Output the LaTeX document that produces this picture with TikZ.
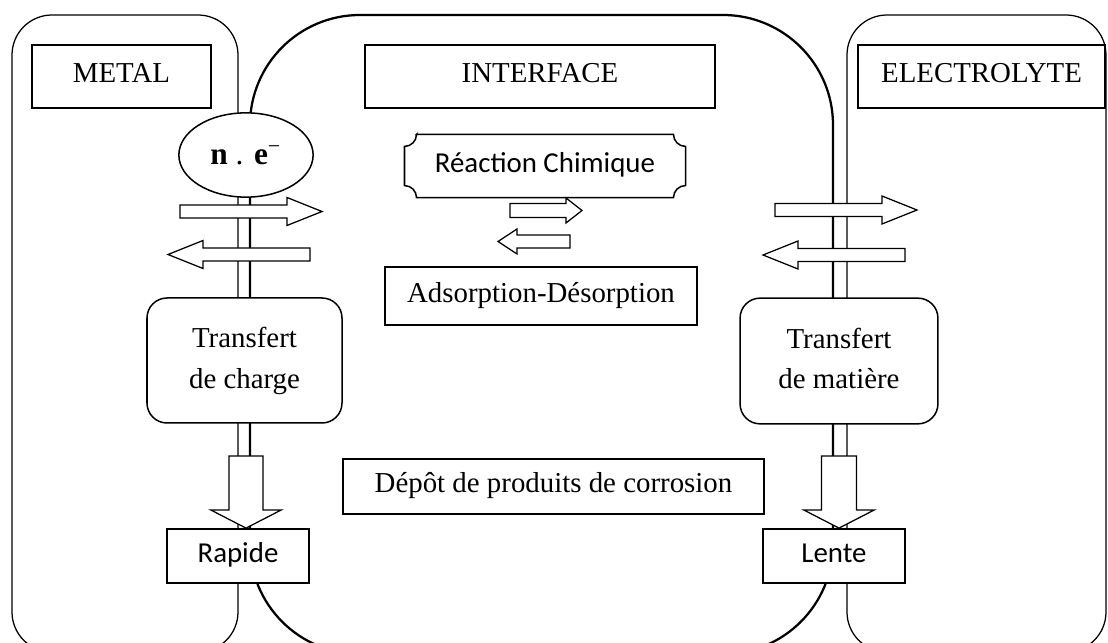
\documentclass[tikz,border=0pt]{standalone}
\usepackage{fontspec}
\setmainfont{Liberation Serif}
\newfontfamily\calibri{Carlito}
\usetikzlibrary{shapes.geometric,calc}

\newcommand{\taille}{\fontsize{11.5}{16}\selectfont}

\tikzset{
	cadre/.style={draw,fill=white,line width=0.6pt,inner sep=2pt},
	ligne/.style={text height=1.55ex,text depth=0.45ex},
	% grosse fleche, pointe a l'origine : longueur/demi-corps/demi-tete/longueur tete
	pics/fleche/.style args={#1/#2/#3/#4}{code={
		\draw[fill=white,line width=0.5pt] (0,0) -- (-#4,#3) -- (-#4,#2) -- (-#1,#2) -- (-#1,-#2) -- (-#4,-#2) -- (-#4,-#3) -- cycle;
	}}
}

\begin{document}
\begin{tikzpicture}[x=1.4cm,y=-1.4cm,font=\taille]
			\useasboundingbox (0,0) rectangle (11.08,6.43);
			\clip (0,0) rectangle (11.08,6.43);

			% les trois domaines
			\draw[line width=0.5pt,rounded corners=0.56cm] (0.12,0.15) rectangle (2.38,6.52);
			\draw[line width=0.9pt,rounded corners=1.54cm] (2.50,0.15) rectangle (8.33,6.54);
			\draw[line width=0.5pt,rounded corners=0.56cm] (8.47,0.15) rectangle (11.06,6.52);

			\node[cadre,ligne,minimum width=2.51cm,minimum height=0.88cm] (metal) at (1.215,0.765) {METAL};
			\node[cadre,ligne,minimum width=4.90cm,minimum height=0.88cm] (interface) at (5.40,0.765) {INTERFACE};
			\node[cadre,ligne,minimum width=3.46cm,minimum height=0.88cm] (electrolyte) at (9.815,0.765) {ELECTROLYTE};

			\node[ellipse,draw,fill=white,line width=0.6pt,minimum width=1.88cm,minimum height=1.18cm,inner sep=0pt,font=\fontsize{12.5}{14}\selectfont] (ne) at (2.46,1.55) {\textbf{n} . \textbf{e}\textsuperscript{−}};

			% reaction chimique (cadre a coins creux)
			\node[ligne,minimum width=3.92cm,minimum height=0.87cm,font=\calibri\taille] (reaction) at (5.45,1.66) {Réaction Chimique};
			\draw[line width=0.6pt] ($(reaction.north west)+(0.12,0)$) -- ($(reaction.north east)+(-0.12,0)$)
				arc[start angle=180,end angle=270,radius=0.168cm] -- ($(reaction.south east)+(0,-0.12)$)
				arc[start angle=90,end angle=180,radius=0.168cm] -- ($(reaction.south west)+(0.12,0)$)
				arc[start angle=0,end angle=90,radius=0.168cm] -- ($(reaction.north west)+(0,0.12)$)
				arc[start angle=270,end angle=360,radius=0.168cm] -- cycle;

			\node[cadre,ligne,minimum width=4.37cm,minimum height=0.81cm] (adsorption) at (5.41,2.96) {Adsorption-Désorption};
			\node[cadre,ligne,minimum width=5.89cm,minimum height=0.77cm] (depot) at (5.535,4.865) {Dépôt de produits de corrosion};

			\node[cadre,rounded corners=0.28cm,minimum width=2.73cm,minimum height=1.75cm,align=center,text depth=0.45ex] (charge) at (2.445,3.605) {Transfert\\de charge};
			\node[cadre,rounded corners=0.28cm,minimum width=2.77cm,minimum height=1.76cm,align=center,text depth=0.45ex] (matiere) at (8.39,3.61) {Transfert\\de matière};

			\node[cadre,ligne,minimum width=1.99cm,minimum height=0.76cm,font=\calibri\taille] (rapide) at (2.38,5.56) {Rapide};
			\node[cadre,ligne,minimum width=1.99cm,minimum height=0.76cm,font=\calibri\taille] (lente) at (8.34,5.56) {Lente};

			% echanges
			\pic at (3.22,2.115) {fleche=1.42/0.065/0.14/0.35};
			\pic[rotate=180] at (1.68,2.545) {fleche=1.42/0.065/0.14/0.35};
			\pic at (9.17,2.10) {fleche=1.42/0.065/0.14/0.35};
			\pic[rotate=180] at (7.63,2.55) {fleche=1.42/0.065/0.14/0.35};
			\pic at (5.82,2.105) {fleche=0.72/0.07/0.125/0.16};
			\pic[rotate=180] at (4.98,2.415) {fleche=0.72/0.065/0.125/0.19};

			\pic[rotate=-90] at (rapide.north -| ne.south) {fleche=0.72/0.17/0.35/0.18};
			\pic[rotate=-90] at (lente.north -| matiere.south) {fleche=0.72/0.175/0.35/0.18};
		\end{tikzpicture}
\end{document}
